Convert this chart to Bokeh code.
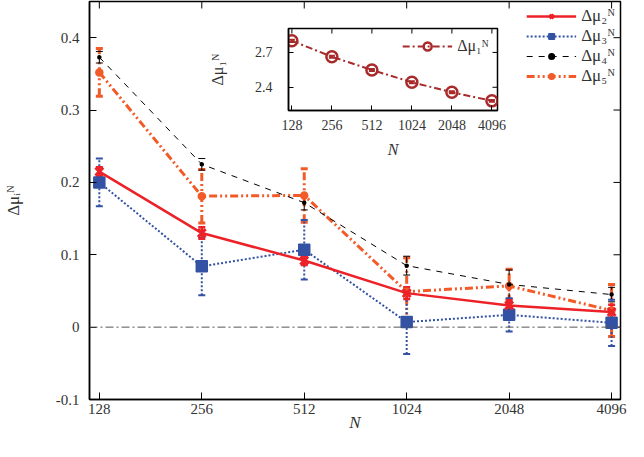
import numpy as np
from bokeh.plotting import figure
from bokeh.models import (Range1d, FixedTicker, Whisker, TeeHead,
                          ColumnDataSource, Span, Legend, LegendItem, NumeralTickFormatter)
from bokeh.embed import file_html
from bokeh.resources import INLINE

# ---------------- data ----------------
N = [128, 256, 512, 1024, 2048, 4096]
mu2 = [0.215, 0.130, 0.092, 0.047, 0.030, 0.021]
mu2_err = [0.006, 0.008, 0.006, 0.008, 0.007, 0.010]
mu3 = [0.200, 0.084, 0.107, 0.007, 0.017, 0.006]
mu3_err = [0.033, 0.040, 0.041, 0.044, 0.023, 0.032]
mu4 = [0.373, 0.225, 0.172, 0.085, 0.059, 0.045]
mu4_err = [0.008, 0.008, 0.010, 0.013, 0.020, 0.010]
mu5 = [0.352, 0.181, 0.182, 0.049, 0.057, 0.023]
mu5_err = [0.033, 0.037, 0.037, 0.047, 0.023, 0.036]
mu1 = [2.800, 2.663, 2.549, 2.443, 2.357, 2.283]
mu1_err = [0.010, 0.008, 0.008, 0.008, 0.008, 0.008]

y_ticks = [-0.1, 0.0, 0.1, 0.2, 0.3, 0.4]
y_labels = ["-0.1", "0", "0.1", "0.2", "0.3", "0.4"]
inset_y_ticks = [2.4, 2.7]

FONT = "Liberation Serif"
RED = "#ec2228"
BLUE = "#3352a3"
BLACK = "#000000"
ORANGE = "#f25a28"
DRED = "#a82a2a"

def style_axis(ax, tick=7, size="15px"):
    ax.major_tick_in = tick
    ax.major_tick_out = 0
    ax.minor_tick_line_color = None
    ax.axis_line_color = "black"
    ax.axis_line_width = 1.5
    ax.major_tick_line_color = "black"
    ax.major_tick_line_width = 1
    ax.major_label_text_font = FONT
    ax.major_label_text_font_size = size
    ax.major_label_text_color = "#333333"
    ax.axis_label_text_font = FONT
    ax.axis_label_text_font_style = "italic"
    ax.axis_label_text_color = "#333333"

def mirror_ticks(fig, xr, yr, yt, tick):
    # gnuplot-style mirrored ticks on the top and right frame edges
    fig.scatter(x=N, y=[yr.end] * len(N), marker="dash", angle=np.pi / 2,
                size=2 * tick, line_color="black", line_width=1)
    fig.scatter(x=[xr.end] * len(yt), y=yt, marker="dash",
                size=2 * tick, line_color="black", line_width=1)

def series(fig, y, err, color, dash, width, marker, msize, fill=True, mlw=1.5, cap=7):
    src = ColumnDataSource(dict(x=N, y=y, up=[a + b for a, b in zip(y, err)],
                                lo=[a - b for a, b in zip(y, err)]))
    w = Whisker(base="x", upper="up", lower="lo", source=src,
                line_color=color, line_width=width, line_dash=dash,
                upper_head=TeeHead(size=cap, line_color=color, line_width=width),
                lower_head=TeeHead(size=cap, line_color=color, line_width=width))
    fig.add_layout(w)
    ln = fig.line("x", "y", source=src, line_color=color, line_width=width, line_dash=dash)
    sc = fig.scatter("x", "y", source=src, marker=marker, size=msize,
                     line_color=color, line_width=mlw,
                     fill_color=color if fill else None)
    return [ln, sc]

# ---------------- main figure ----------------
xr = Range1d(2 ** 6.904, 2 ** 12.087)
yr = Range1d(-0.1, 0.45)
p = figure(width=628, height=440, output_backend="svg", toolbar_location=None,
           x_axis_type="log", x_range=xr, y_range=yr,
           min_border_left=82, min_border_right=8, min_border_top=1, min_border_bottom=41)
p.xgrid.visible = False
p.ygrid.visible = False
p.outline_line_color = "black"
p.outline_line_width = 1.5
p.background_fill_color = "white"

xa = p.xaxis[0]
xa.ticker = FixedTicker(ticks=N)
xa.formatter = NumeralTickFormatter(format="0")
style_axis(xa)
xa.major_label_standoff = 4
xa.axis_label = "N"
xa.axis_label_text_font_size = "17px"
xa.axis_label_standoff = -4

ya = p.yaxis[0]
ya.ticker = FixedTicker(ticks=y_ticks)
ya.major_label_overrides = dict(zip(y_ticks, y_labels))
style_axis(ya)
ya.major_label_standoff = 10
ya.axis_label = "Δμᵢᴺ"
ya.axis_label_text_font_size = "17px"
ya.axis_label_text_font_style = "normal"
ya.axis_label_standoff = 30

mirror_ticks(p, xr, yr, y_ticks, 7)

p.add_layout(Span(location=0, dimension="width", line_color="#555555", line_width=1,
                  line_dash="8 3 2 3"))

r5 = series(p, mu5, mu5_err, ORANGE, "8 3 2 3 2 3", 3, "circle", 7)
r4 = series(p, mu4, mu4_err, BLACK, "6 6", 1, "circle", 3)
r3 = series(p, mu3, mu3_err, BLUE, "2 2", 2, "square", 11)
r2 = series(p, mu2, mu2_err, RED, "solid", 2.5, "x", 11, mlw=3)

legend = Legend(items=[
    LegendItem(label="Δμ₂ᴺ", renderers=r2),
    LegendItem(label="Δμ₃ᴺ", renderers=r3),
    LegendItem(label="Δμ₄ᴺ", renderers=r4),
    LegendItem(label="Δμ₅ᴺ", renderers=r5),
], location="top_right")
legend.background_fill_alpha = 0
legend.border_line_alpha = 0
legend.label_text_font = FONT
legend.label_text_font_size = "17px"
legend.label_text_color = "#333333"
legend.glyph_width = 50
legend.glyph_height = 14
legend.label_height = 14
legend.spacing = 0
legend.padding = 2
legend.margin = 3
p.add_layout(legend)

# ---------------- inset ----------------
qxr = Range1d(2 ** 6.915, 2 ** 12.14)
qyr = Range1d(2.2, 2.906)
q = figure(width=308, height=137, output_backend="svg", toolbar_location=None,
           x_axis_type="log", x_range=qxr, y_range=qyr,
           min_border_left=85, min_border_right=14, min_border_top=3, min_border_bottom=52,
           styles={"position": "absolute", "left": "203px", "top": "25px"})
q.xgrid.visible = False
q.ygrid.visible = False
q.outline_line_color = "black"
q.outline_line_width = 1.5
q.border_fill_alpha = 0
q.background_fill_color = "white"

qx = q.xaxis[0]
qx.ticker = FixedTicker(ticks=N)
qx.formatter = NumeralTickFormatter(format="0")
style_axis(qx, 5, "14px")
qx.major_label_standoff = 9
qx.axis_label = "N"
qx.axis_label_text_font_size = "16px"
qx.axis_label_standoff = 8

qy = q.yaxis[0]
qy.ticker = FixedTicker(ticks=inset_y_ticks)
style_axis(qy, 5, "14px")
qy.major_label_standoff = 16
qy.axis_label = "Δμ₁ᴺ"
qy.axis_label_text_font_size = "16px"
qy.axis_label_text_font_style = "normal"
qy.axis_label_standoff = 26

mirror_ticks(q, qxr, qyr, inset_y_ticks, 5)

r1 = series(q, mu1, mu1_err, DRED, "7 3 2 3", 2, "circle", 11, fill=False, mlw=2.5, cap=6)
leg1 = Legend(items=[LegendItem(label="Δμ₁ᴺ", renderers=r1)], location="top_right")
leg1.background_fill_alpha = 0
leg1.border_line_alpha = 0
leg1.label_text_font = FONT
leg1.label_text_font_size = "16px"
leg1.label_text_color = "#333333"
leg1.glyph_width = 50
leg1.padding = 2
leg1.margin = 6
q.add_layout(leg1)

open("out.html", "w").write(file_html([p, q], INLINE))
